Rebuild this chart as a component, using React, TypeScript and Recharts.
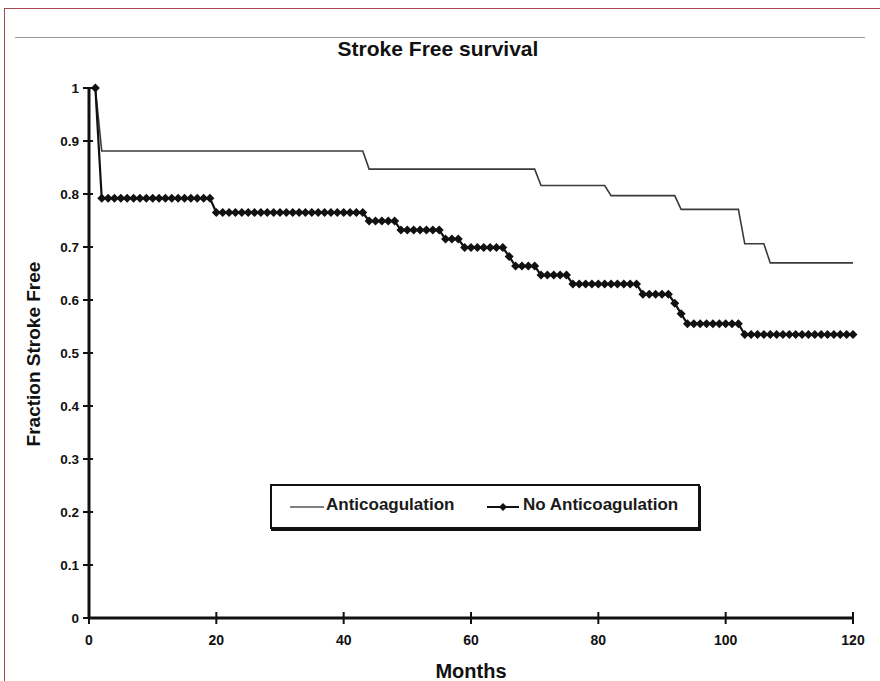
import { LineChart, Line, XAxis, YAxis, Legend } from "recharts";

// month index for each KM point (1..120)
const months = Array.from({ length: 120 }, (_, i) => i + 1);

// fraction stroke free, one value per month
const anticoag = [
  1, 0.881, 0.881, 0.881, 0.881, 0.881, 0.881, 0.881, 0.881, 0.881,
  0.881, 0.881, 0.881, 0.881, 0.881, 0.881, 0.881, 0.881, 0.881, 0.881,
  0.881, 0.881, 0.881, 0.881, 0.881, 0.881, 0.881, 0.881, 0.881, 0.881,
  0.881, 0.881, 0.881, 0.881, 0.881, 0.881, 0.881, 0.881, 0.881, 0.881,
  0.881, 0.881, 0.881, 0.847, 0.847, 0.847, 0.847, 0.847, 0.847, 0.847,
  0.847, 0.847, 0.847, 0.847, 0.847, 0.847, 0.847, 0.847, 0.847, 0.847,
  0.847, 0.847, 0.847, 0.847, 0.847, 0.847, 0.847, 0.847, 0.847, 0.847,
  0.816, 0.816, 0.816, 0.816, 0.816, 0.816, 0.816, 0.816, 0.816, 0.816,
  0.816, 0.797, 0.797, 0.797, 0.797, 0.797, 0.797, 0.797, 0.797, 0.797,
  0.797, 0.797, 0.771, 0.771, 0.771, 0.771, 0.771, 0.771, 0.771, 0.771,
  0.771, 0.771, 0.706, 0.706, 0.706, 0.706, 0.67, 0.67, 0.67, 0.67,
  0.67, 0.67, 0.67, 0.67, 0.67, 0.67, 0.67, 0.67, 0.67, 0.67,
];

const noAnticoag = [
  1, 0.792, 0.792, 0.792, 0.792, 0.792, 0.792, 0.792, 0.792, 0.792,
  0.792, 0.792, 0.792, 0.792, 0.792, 0.792, 0.792, 0.792, 0.792, 0.765,
  0.765, 0.765, 0.765, 0.765, 0.765, 0.765, 0.765, 0.765, 0.765, 0.765,
  0.765, 0.765, 0.765, 0.765, 0.765, 0.765, 0.765, 0.765, 0.765, 0.765,
  0.765, 0.765, 0.765, 0.749, 0.749, 0.749, 0.749, 0.749, 0.732, 0.732,
  0.732, 0.732, 0.732, 0.732, 0.732, 0.715, 0.715, 0.715, 0.699, 0.699,
  0.699, 0.699, 0.699, 0.699, 0.699, 0.682, 0.664, 0.664, 0.664, 0.664,
  0.647, 0.647, 0.647, 0.647, 0.647, 0.63, 0.63, 0.63, 0.63, 0.63,
  0.63, 0.63, 0.63, 0.63, 0.63, 0.63, 0.611, 0.611, 0.611, 0.611,
  0.611, 0.594, 0.574, 0.555, 0.555, 0.555, 0.555, 0.555, 0.555, 0.555,
  0.555, 0.555, 0.535, 0.535, 0.535, 0.535, 0.535, 0.535, 0.535, 0.535,
  0.535, 0.535, 0.535, 0.535, 0.535, 0.535, 0.535, 0.535, 0.535, 0.535,
];

const xTicks = [0, 20, 40, 60, 80, 100, 120];
const yTicks = [0, 0.1, 0.2, 0.3, 0.4, 0.5, 0.6, 0.7, 0.8, 0.9, 1];

const rows = months.map((m, i) => ({
  month: m,
  anti: anticoag[i],
  noAnti: noAnticoag[i],
}));

const font = "'Liberation Sans', Arial, Helvetica, sans-serif";
const ink = "#111";

const XTick = ({ x, y, payload }: any) => (
  <g>
    <line x1={x} x2={x} y1={y - 6} y2={y + 6} stroke={ink} strokeWidth={2} />
    <text x={x} y={y + 27} textAnchor="middle" fontSize={14} fontWeight="bold" fontFamily={font} fill={ink}>
      {payload.value}
    </text>
  </g>
);

const YTick = ({ x, y, payload }: any) => (
  <g>
    <line x1={x - 6} x2={x + 4} y1={y} y2={y} stroke={ink} strokeWidth={2} />
    <text x={x - 10} y={y + 5} textAnchor="end" fontSize={13.5} fontWeight="bold" fontFamily={font} fill={ink}>
      {payload.value}
    </text>
  </g>
);

const Diamond = ({ cx, cy }: any) => {
  if (cx == null || cy == null) return null;
  const r = 4.5;
  return <path d={`M${cx},${cy - r}L${cx + r},${cy}L${cx},${cy + r}L${cx - r},${cy}Z`} fill={ink} />;
};

const YLabel = () => {
  const cx = 33;
  const cy = 354;
  return (
    <text x={cx} y={cy} transform={`rotate(-90 ${cx} ${cy})`} textAnchor="middle" dominantBaseline="central"
      fontSize={19} fontWeight="bold" fontFamily={font} fill={ink}>
      Fraction Stroke Free
    </text>
  );
};

const XLabel = () => (
  <text x={471} y={678} textAnchor="middle" fontSize={20} fontWeight="bold" fontFamily={font} fill={ink}>
    Months
  </text>
);

const LegendBox = () => (
  <div style={{
    position: "relative", width: 426, height: 41, border: `2px solid ${ink}`,
    boxShadow: `1px 2px 0 ${ink}`, background: "#fff", fontFamily: font, fontSize: 17,
    fontWeight: "bold", color: "#1a1a1a",
  }}>
    <svg width={36} height={10} style={{ position: "absolute", left: 18, top: 16 }}>
      <line x1={0} x2={34} y1={5} y2={5} stroke="#555" strokeWidth={1.5} />
    </svg>
    <span style={{ position: "absolute", left: 54, top: 9 }}>Anticoagulation</span>
    <svg width={34} height={12} style={{ position: "absolute", left: 215, top: 15 }}>
      <line x1={0} x2={32} y1={6} y2={6} stroke={ink} strokeWidth={2} />
      <path d="M16,2L20,6L16,10L12,6Z" fill={ink} />
    </svg>
    <span style={{ position: "absolute", left: 251, top: 9 }}>No Anticoagulation</span>
  </div>
);

export default function App() {
  return (
    <div style={{ position: "fixed", left: 0, top: 0, width: 880, height: 681, background: "#fff", overflow: "hidden" }}>
      {/* page frame */}
      <div style={{ position: "absolute", left: 4, top: 8, width: 880, height: 700, borderTop: "1.5px solid #a8484a", borderLeft: "1.5px solid #a8484a" }} />
      <div style={{ position: "absolute", left: 15, top: 37, width: 850, height: 0, borderTop: "1.5px solid #9a9a9a" }} />
      <div style={{ position: "absolute", left: 0, top: 37, width: 876, textAlign: "center", fontFamily: font, fontWeight: "bold", fontSize: 21, color: ink }}>
        Stroke Free survival
      </div>
      <div style={{ position: "absolute", left: 0, top: 0 }}>
        <LineChart width={880} height={681} data={rows} margin={{ top: 88, right: 27, bottom: 0, left: 9 }}>
          <XAxis dataKey="month" type="number" domain={[0, 120]} ticks={xTicks} height={63}
            tickSize={0} tickMargin={0} tickLine={false} tick={<XTick />} interval={0}
            axisLine={{ stroke: ink, strokeWidth: 3 }} label={<XLabel />} />
          <YAxis type="number" domain={[0, 1]} ticks={yTicks} width={80}
            tickSize={0} tickMargin={0} tickLine={false} tick={<YTick />} interval={0}
            axisLine={{ stroke: ink, strokeWidth: 3 }} label={<YLabel />} />
          <Legend layout="horizontal" verticalAlign="middle" align="center" content={<LegendBox />}
            wrapperStyle={{ left: 270, top: 484, width: 430 }} />
          <Line type="linear" dataKey="anti" name="Anticoagulation" stroke="#3a3a3a" strokeWidth={1.6}
            dot={false} activeDot={false} isAnimationActive={false} />
          <Line type="linear" dataKey="noAnti" name="No Anticoagulation" stroke={ink} strokeWidth={2.2}
            dot={<Diamond />} activeDot={false} isAnimationActive={false} />
        </LineChart>
      </div>
    </div>
  );
}
